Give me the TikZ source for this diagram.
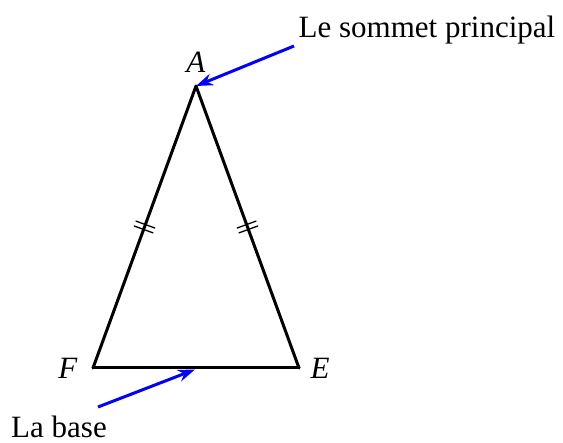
\documentclass[tikz,border=0pt]{standalone}
\usepackage{fontspec}
\setmainfont{Liberation Serif}
\usetikzlibrary{arrows.meta,decorations.markings}
\begin{document}
\begin{tikzpicture}[x=1pt,y=-1pt,
  side/.style={line width=3pt,line cap=round,line join=round},
  ticked/.style={postaction={decorate},decoration={markings,mark=at position 0.5 with {
     \draw[line width=1.3pt] (-2.6pt,-10pt)--(-2.6pt,10pt);
     \draw[line width=1.3pt] (2.6pt,-10pt)--(2.6pt,10pt);}}},
  pointer/.style={blue,line width=3pt,-{Stealth[length=17pt,width=12pt]}},
  lbl/.style={font=\fontsize{31}{36}\selectfont,inner sep=0pt}]
\useasboundingbox (0,0) rectangle (563,443);
\coordinate (A) at (196,86);
\coordinate (F) at (93,368);
\coordinate (E) at (299,368);
\coordinate (Bm) at (195,369.5);
\draw[side,ticked] (A) -- (F);
\draw[side,ticked] (A) -- (E);
\draw[side] (F) -- (E);
\node[lbl] (la) at (196,62) {\textit{A}};
\node[lbl] (lf) at (68,368) {\textit{F}};
\node[lbl] (le) at (320,368) {\textit{E}};
\node[lbl] (ls) at (427,30) {Le sommet principal};
\node[lbl] (lb) at (59,427) {La base};
\coordinate (s1) at (294,46);
\coordinate (s2) at (98,407);
\draw[pointer] (s1) -- (A);
\draw[pointer] (s2) -- (Bm);
\end{tikzpicture}
\end{document}
